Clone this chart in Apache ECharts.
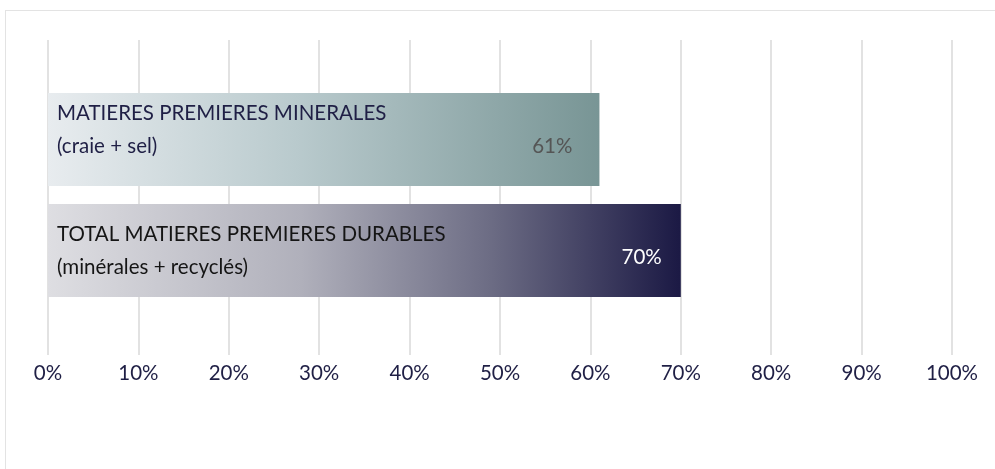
<!DOCTYPE html>
<html>
<head>
<meta charset="utf-8">
<script src="https://cdn.jsdelivr.net/npm/echarts@6/dist/echarts.min.js"></script>
<style>
html,body{margin:0;padding:0;background:#fff;overflow:hidden;}
#frame{position:absolute;left:5px;top:10px;width:1000px;height:480px;border-left:1px solid #e3e3e3;border-top:1px solid #e3e3e3;}
#c{position:absolute;left:0;top:0;width:995px;height:469px;}
</style>
</head>
<body>
<div id="frame"></div>
<div id="c"></div>
<script>
var categories = ['MATIERES PREMIERES MINERALES\n(craie + sel)', 'TOTAL MATIERES PREMIERES DURABLES\n(minérales + recyclés)'];
var values = [61, 70];
var tickValues = [0,10,20,30,40,50,60,70,80,90,100];

var chart = echarts.init(document.getElementById('c'));
var FONT = 'Lato';
var FS = 20.5;

var gradients = [
  new echarts.graphic.LinearGradient(0,0,1,0,[
    {offset:0,color:'#e8ecef'},{offset:0.45,color:'#b9cacd'},{offset:1,color:'#789595'}]),
  new echarts.graphic.LinearGradient(0,0,1,0,[
    {offset:0,color:'#dedee2'},{offset:0.4,color:'#b0b0bb'},{offset:0.7,color:'#6c6c84'},{offset:1,color:'#1b1944'}])
];
var nameLabelColors = ['#1f1f45', '#151515'];
var nameLabelOffsets = [[0,-10],[0,0]];
var valueLabelColors = ['#555555', '#ffffff'];
var valueLabelOffsets = [[-27,7],[-19,7]];

chart.setOption({
  animation:false,
  grid:[
    {left:48, right:43, top:40, bottom:114},
    {left:48, right:43, top:84, bottom:163}
  ],
  xAxis:[
    {gridIndex:0, type:'value', min:0, max:100, interval:10,
     axisLine:{show:false}, axisTick:{show:false},
     splitLine:{show:true, lineStyle:{color:'#d9d9d9', width:1.5}},
     axisLabel:{formatter:'{value}%', color:'#1f1f45', fontFamily:FONT, fontSize:FS, margin:8}},
    {gridIndex:1, type:'value', min:0, max:100, show:false}
  ],
  yAxis:[
    {gridIndex:0, type:'category', data:categories, show:false},
    {gridIndex:1, type:'category', data:categories, inverse:true, show:false}
  ],
  series:[
    {type:'bar', xAxisIndex:1, yAxisIndex:1, barWidth:93,
     data: values.map(function(v,i){return {value:v, itemStyle:{color:gradients[i]},
       label:{show:true, position:'insideLeft', distance:9, offset:nameLabelOffsets[i],
         formatter:function(p){return p.name;}, color:nameLabelColors[i], fontFamily:FONT, fontSize:FS, lineHeight:33}};})
    },
    {type:'bar', xAxisIndex:1, yAxisIndex:1, barWidth:93, barGap:'-100%',
     itemStyle:{color:'rgba(0,0,0,0)'},
     data: values.map(function(v,i){return {value:v,
       label:{show:true, position:'insideRight', distance:0, offset:valueLabelOffsets[i],
         formatter:function(p){return p.value+'%';}, color:valueLabelColors[i], fontFamily:FONT, fontSize:FS}};})
    }
  ]
});
</script>
</body>
</html>
